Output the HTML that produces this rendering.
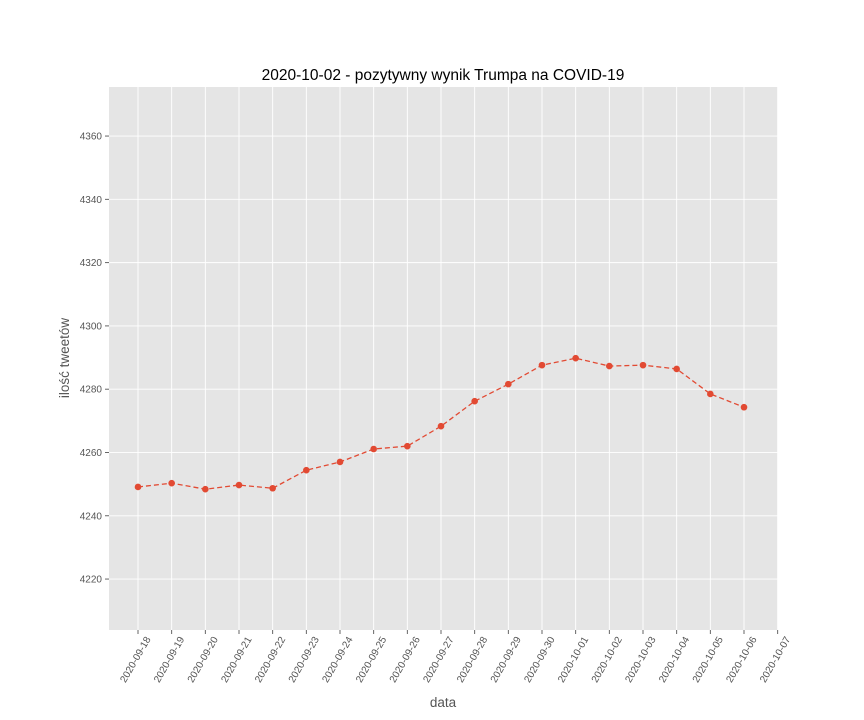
<!DOCTYPE html>
<html><head><meta charset="utf-8">
<style>
body{margin:0;background:#fff;}
svg{display:block;font-family:"Liberation Sans","DejaVu Sans",sans-serif;}
</style></head>
<body>
<svg id="chart" width="864" height="720">
<text x="443" y="80" text-anchor="middle" font-size="15.5" fill="#000">2020-10-02 - pozytywny wynik Trumpa na COVID-19</text>
<rect x="109" y="87" width="669" height="543" fill="#e5e5e5"/>
<g id="grid"></g>
<g id="axes"></g>
<g id="series"></g>
<text x="443" y="707" text-anchor="middle" font-size="13.5" fill="#555">data</text>
<text transform="translate(69,358) rotate(-90)" text-anchor="middle" font-size="13.5" fill="#555">ilość tweetów</text>
</svg>
<script>
const categories=["2020-09-18","2020-09-19","2020-09-20","2020-09-21","2020-09-22","2020-09-23","2020-09-24","2020-09-25","2020-09-26","2020-09-27","2020-09-28","2020-09-29","2020-09-30","2020-10-01","2020-10-02","2020-10-03","2020-10-04","2020-10-05","2020-10-06"];
const xTickLabels=["2020-09-18","2020-09-19","2020-09-20","2020-09-21","2020-09-22","2020-09-23","2020-09-24","2020-09-25","2020-09-26","2020-09-27","2020-09-28","2020-09-29","2020-09-30","2020-10-01","2020-10-02","2020-10-03","2020-10-04","2020-10-05","2020-10-06","2020-10-07"];
const tweetCounts=[4249.1,4250.3,4248.4,4249.7,4248.7,4254.4,4257.0,4261.1,4262.0,4268.3,4276.2,4281.6,4287.6,4289.8,4287.3,4287.6,4286.4,4278.5,4274.3];
const yTicks=[4220,4240,4260,4280,4300,4320,4340,4360];
const yMin=4203.9,yMax=4375.5;
const NS="http://www.w3.org/2000/svg";
const L=109,R=778,T=87,B=630;
const x0=138,dx=(744-138)/18;
function xScale(i){return x0+i*dx;}
function yScale(v){return B-(v-yMin)/(yMax-yMin)*(B-T);}
function mk(tag,attrs,parent){const e=document.createElementNS(NS,tag);for(const k in attrs)e.setAttribute(k,attrs[k]);parent.appendChild(e);return e;}
const grid=document.getElementById('grid'),axes=document.getElementById('axes'),series=document.getElementById('series');
xTickLabels.forEach((lab,i)=>{
  const x=xScale(i);
  const g=mk('line',{x1:x,x2:x,y1:T,y2:B,stroke:'#fff','stroke-width':0.9},grid);
  
  
  const t=mk('line',{x1:x,x2:x,y1:B,y2:B+4,stroke:'#555','stroke-width':0.9},axes);
  
  
  const tx=mk('text',{transform:`translate(${x+13},${B+9}) rotate(-60)`,'text-anchor':'end','font-size':10,fill:'#555'},axes);
  tx.textContent=lab;
  
  
});
yTicks.forEach(v=>{
  const y=yScale(v);
  const g=mk('line',{x1:L,x2:R,y1:y,y2:y,stroke:'#fff','stroke-width':0.9},grid);
  
  
  const t=mk('line',{x1:L-4,x2:L,y1:y,y2:y,stroke:'#555','stroke-width':0.9},axes);
  
  
  const tx=mk('text',{x:L-7,y:y+3.5,'text-anchor':'end','font-size':10,fill:'#555'},axes);
  tx.textContent=v;
  
  
});
const pts=tweetCounts.map((v,i)=>xScale(i)+','+yScale(v)).join(' ');
const line=mk('polyline',{points:pts,fill:'none',stroke:'#e24a33','stroke-width':1.3,'stroke-dasharray':'5,3'},series);


tweetCounts.forEach((v,i)=>{
  const c=mk('circle',{cx:xScale(i),cy:yScale(v),r:3.3,fill:'#e24a33'},series);
  
  
});
</script>
</body></html>
